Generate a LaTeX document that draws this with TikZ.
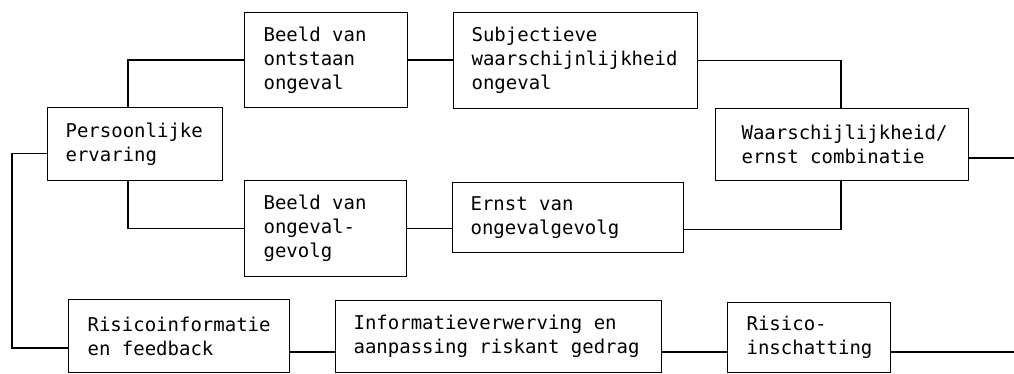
\documentclass[tikz,border=0pt]{standalone}
\usepackage{fontspec}
\newfontfamily\boxfont{DejaVu Sans Mono}
\newcommand\blkfont{\boxfont\fontsize{19pt}{24pt}\selectfont}
\begin{document}
\begin{tikzpicture}[x=1pt,y=-1pt,
  blk/.style={draw, line width=1.2pt, rectangle, anchor=north west,
    align=left, inner ysep=0pt, font=\blkfont,
    execute at begin node={\hyphenpenalty=10000 \exhyphenpenalty=10000
      \spaceskip=11.44pt\relax}},
  wire/.style={line width=1.2pt}]
\useasboundingbox (0,0) rectangle (1014,374);

% upper branch
\node[blk, minimum width=175pt, minimum height=73pt, inner xsep=18pt, text width=139pt]
  (pe) at (47,107) {Persoonlijke\\ervaring};
\node[blk, minimum width=163pt, minimum height=95pt, inner xsep=19pt, text width=125pt]
  (bo) at (244,12) {Beeld van\\ontstaan\\ongeval};
\node[blk, minimum width=244pt, minimum height=96pt, inner xsep=18pt, text width=208pt]
  (sw) at (453,12) {Subjectieve\\waarschijnlijkheid\\ongeval};
\node[blk, minimum width=253pt, minimum height=72pt, inner xsep=26pt, text width=201pt]
  (wc) at (715,108) {Waarschijlijkheid/\\ernst combinatie};

% lower branch
\node[blk, minimum width=162pt, minimum height=96pt, inner xsep=19pt, text width=124pt]
  (bg) at (244,180) {Beeld van\\ongeval-\\gevolg};
\node[blk, minimum width=231pt, minimum height=70pt, inner xsep=18pt, text width=195pt]
  (eg) at (452,182) {Ernst van\\ongevalgevolg};

% bottom row
\node[blk, minimum width=221pt, minimum height=73pt, inner xsep=19pt, text width=183pt]
  (ri) at (68,299) {Risicoinformatie\\en feedback};
\node[blk, minimum width=326pt, minimum height=72pt, inner xsep=18pt, text width=290pt]
  (iv) at (335,300) {Informatieverwerving en\\aanpassing riskant gedrag};
\node[blk, minimum width=163pt, minimum height=70pt, inner xsep=19pt, text width=125pt]
  (rs) at (727,302) {Risico-\\inschatting};

% connectors
\draw[wire] ([xshift=81pt]pe.north west) |- (bo.west);
\draw[wire] ([xshift=81pt]pe.south west) |- (bg.west);
\draw[wire] (bo.east) -- (bo.east -| sw.west);
\draw[wire] (sw.east) -| ([xshift=126pt]wc.north west);
\draw[wire] ([yshift=-12pt]eg.east) -| ([xshift=126pt]wc.south west);
\draw[wire] (bg.east) -- (bg.east -| eg.west);

\coordinate (wout) at (1014,158);
\draw[wire] (wc.east |- wout) -- (wout);

\coordinate (loop) at (12,348);
\draw[wire] ([yshift=-9.5pt]pe.west) -| (loop) -- (loop -| ri.west);

\coordinate (rout) at (1014,352);
\draw[wire] (ri.east |- rout) -- (rout -| iv.west);
\draw[wire] (iv.east |- rout) -- (rout -| rs.west);
\draw[wire] (rs.east |- rout) -- (rout);
\end{tikzpicture}
\end{document}
